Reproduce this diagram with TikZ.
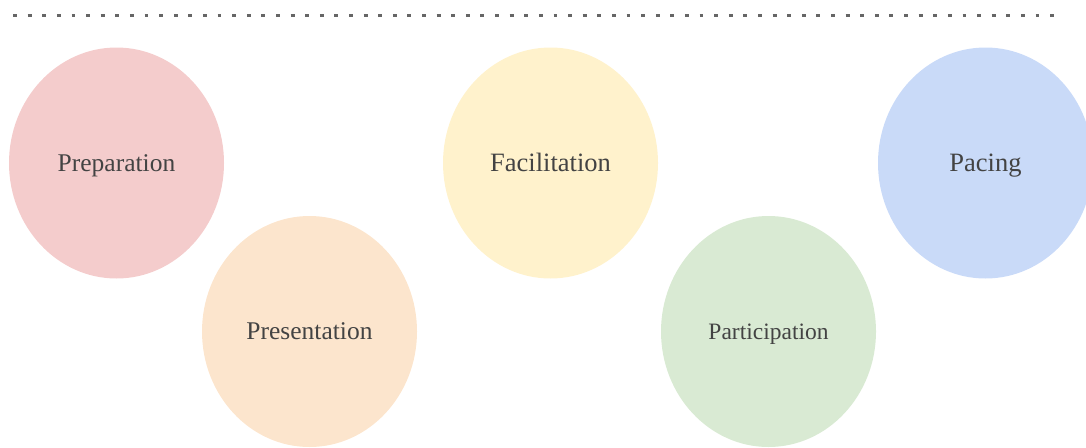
\documentclass[tikz,border=0pt]{standalone}
\usepackage{fontspec}
\setmainfont{Liberation Serif}
\usetikzlibrary{shapes.geometric}
\definecolor{txtgray}{HTML}{434343}
\definecolor{dotgray}{HTML}{666666}
\definecolor{cPrep}{HTML}{F4CCCC}
\definecolor{cPres}{HTML}{FCE5CD}
\definecolor{cFac}{HTML}{FFF2CC}
\definecolor{cPart}{HTML}{D9EAD3}
\definecolor{cPace}{HTML}{C9DAF8}
\tikzset{
  bubble/.style={ellipse, inner sep=0pt, minimum width=215pt, minimum height=231pt,
    text=txtgray, text depth=0pt},
  big/.style={font=\fontsize{26.5}{32}\selectfont, text height=17.5pt},
  mid/.style={font=\fontsize{25.5}{30}\selectfont, text height=16.9pt},
  small/.style={font=\fontsize{23.5}{28}\selectfont, text height=15.6pt},
  dotrule/.style={draw=dotgray, line width=3.9pt, dash pattern=on 3.9pt off 10.706pt}
}
\begin{document}
\begin{tikzpicture}[x=1pt,y=-1pt]
  \useasboundingbox (0,0) rectangle (1086,447);
  \clip (0,0) rectangle (1086,447);
  % dotted rule along the top
  \coordinate (ruleL) at (13.1,15.5);
  \coordinate (ruleR) at (1060,15.5);
  \draw[dotrule] (ruleL) -- (ruleR);
  % the five stages
  \node[bubble, mid, fill=cPrep]   (prep) at (116.5,163)   {Preparation};
  \node[bubble, mid, fill=cPres]   (pres) at (309.5,331.5) {Presentation};
  \node[bubble, big, fill=cFac]    (fac)  at (550.5,163)   {Facilitation};
  \node[bubble, small, fill=cPart] (part) at (768.5,331.5) {Participation};
  \node[bubble, big, fill=cPace]   (pace) at (985.5,163)   {Pacing};
\end{tikzpicture}
\end{document}
